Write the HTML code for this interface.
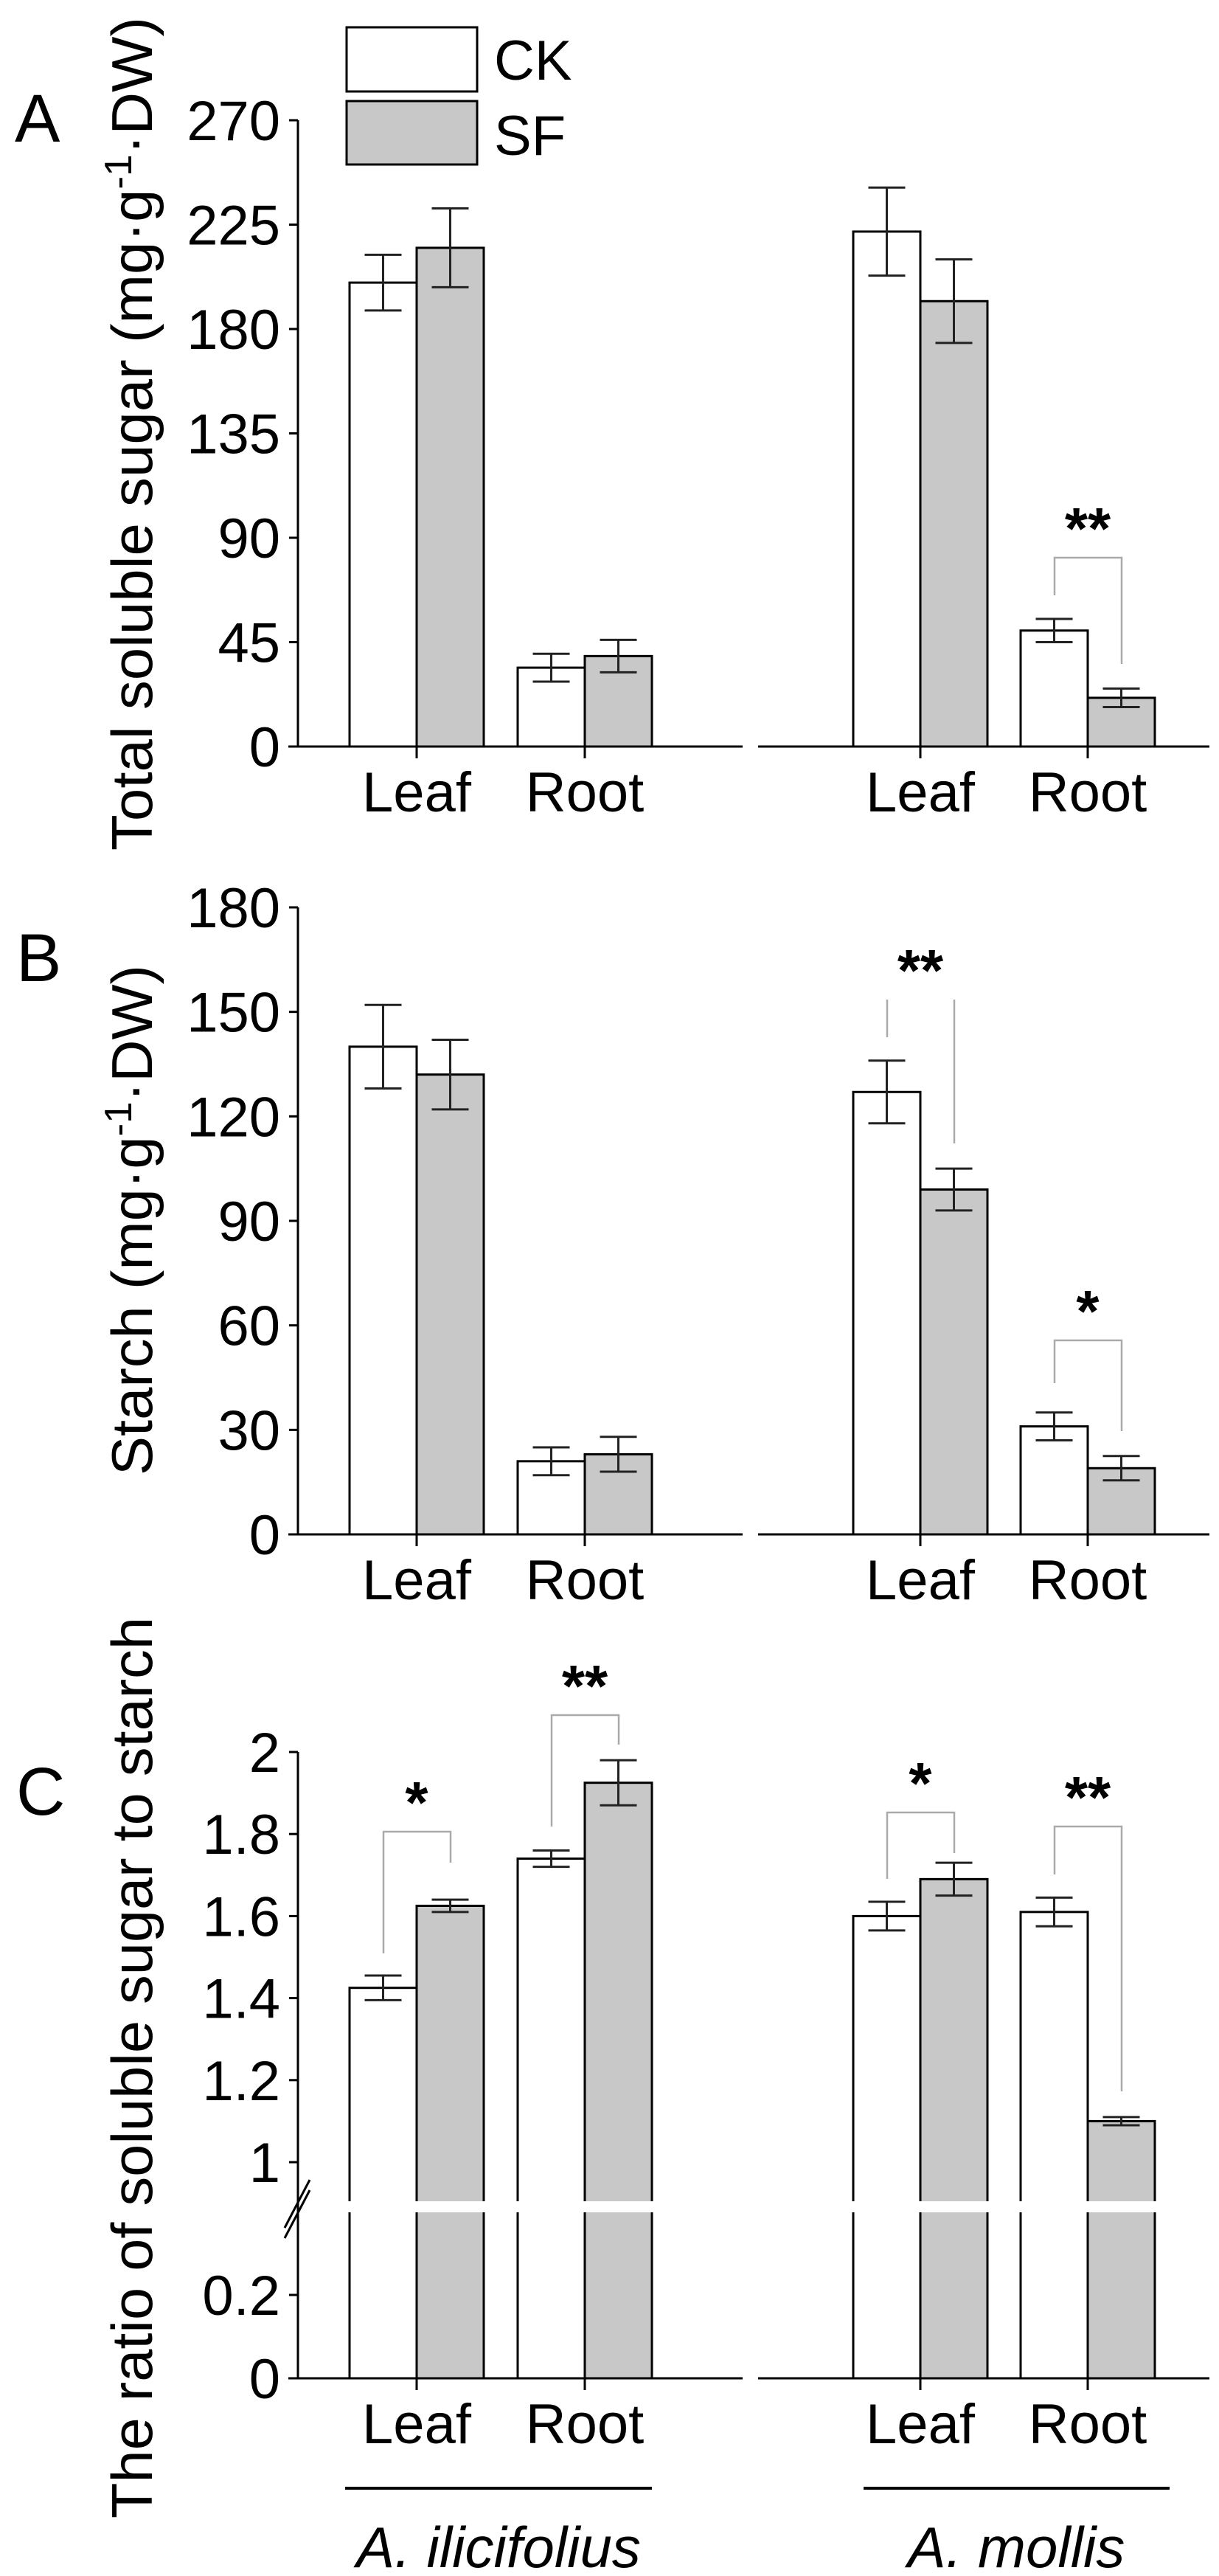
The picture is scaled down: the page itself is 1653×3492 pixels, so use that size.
<!DOCTYPE html>
<html><head><meta charset="utf-8"><title>Sugar and starch chart</title>
<style>html,body{margin:0;padding:0;background:#fff}svg{display:block}text{font-family:"Liberation Sans",Arial,sans-serif}</style>
</head><body>
<svg id="chart" xmlns="http://www.w3.org/2000/svg" width="1653" height="3492" viewBox="0 0 1653 3492">
<rect x="0" y="0" width="1653" height="3492" fill="#fff"/>
</svg>
<script>
// ---- data ----
const tissues = ["Leaf","Root"];
const species = ["A. ilicifolius","A. mollis"];
// order: [ilici leaf, ilici root, mollis leaf, mollis root]
const sugarCK = [200, 34, 222, 50];
const sugarCKerr = [12, 6, 19, 5];
const sugarSF = [215, 39, 192, 21];
const sugarSFerr = [17, 7, 18, 4];
const starchCK = [140, 21, 127, 31];
const starchCKerr = [12, 4, 9, 4];
const starchSF = [132, 23, 99, 19];
const starchSFerr = [10, 5, 6, 3.5];
const ratioCK = [1.425, 1.74, 1.60, 1.61];
const ratioCKerr = [0.03, 0.02, 0.035, 0.035];
const ratioSF = [1.625, 1.925, 1.69, 1.10];
const ratioSFerr = [0.015, 0.055, 0.04, 0.01];
const sugarTicks = [0,45,90,135,180,225,270];
const starchTicks = [0,30,60,90,120,150,180];
const ratioTicksHigh = [1,1.2,1.4,1.6,1.8,2];
const ratioTicksLow = [0,0.2];
const sugarSig = [null, null, null, "**"];
const starchSig = [null, null, "**", "*"];
const ratioSig = ["*", "**", "*", "**"];

const NS="http://www.w3.org/2000/svg";
const svg=document.getElementById('chart');
function el(tag,attrs,parent){const e=document.createElementNS(NS,tag);for(const k in attrs)e.setAttribute(k,attrs[k]);(parent||svg).appendChild(e);return e;}
function txt(s,attrs,parent){const t=el('text',attrs,parent);t.textContent=s;return t;}

const groupCenters=[565,793,1248,1475];
const barW=91;
const AXX=404;

function drawPanel(cfg){
  const g=el('g',{});
  
  
  const y=cfg.y;
  // bars
  for(let i=0;i<4;i++){
    const c=groupCenters[i];
    [[cfg.ck,cfg.ckErr,'#fff',c-barW,'bar-ck'],[cfg.sf,cfg.sfErr,'#c8c8c8',c,'bar-sf']].forEach(([vals,errs,fill,x0,nm])=>{
      const v=vals[i],e=errs[i];
      const top=y(v);
      if(cfg.breakY){
        const r1=el('rect',{x:x0,y:top,width:barW,height:cfg.breakY[0]-top+6,fill:fill,stroke:'#000','stroke-width':3},g);
        
        
        const r2=el('rect',{x:x0,y:cfg.breakY[1]-6,width:barW,height:cfg.base-cfg.breakY[1]+6,fill:fill,stroke:'#000','stroke-width':3},g);
        
        
        el('rect',{x:x0-4,y:cfg.breakY[0],width:barW+8,height:cfg.breakY[1]-cfg.breakY[0],fill:'#fff'},g);
      } else {
        const r=el('rect',{x:x0,y:top,width:barW,height:cfg.base-top,fill:fill,stroke:'#000','stroke-width':3},g);
        
        
      }
      const cx=x0+barW/2, y1=y(v+e), y2=y(v-e);
      const eb=el('path',{d:`M${cx-25},${y1}H${cx+25}M${cx},${y1}V${y2}M${cx-25},${y2}H${cx+25}`,stroke:'#222','stroke-width':3,fill:'none'},g);
      
      
    });
    // x tick
    const xt=el('line',{x1:c,y1:cfg.base,x2:c,y2:cfg.base+16,stroke:'#000','stroke-width':3},g);
    
    
    const cl=txt(tissues[i%2],{x:c,y:cfg.base+88,'font-size':76,'text-anchor':'middle'},g);
    
    
    // significance
    if(cfg.sig[i]){
      const s=cfg.sigPos[i];
      const lx=c-45, rx=c+46;
      const lb=y(cfg.ck[i]+cfg.ckErr[i])-s.gapL, rb=y(cfg.sf[i]+cfg.sfErr[i])-s.gapR;
      const d=s.noTop?`M${lx},${lb}V${s.top}M${rx},${s.top}V${rb}`:`M${lx},${lb}V${s.top}H${rx}V${rb}`;
      const br=el('path',{d:d,stroke:'#aaa','stroke-width':2.5,fill:'none'},g);
      
      
      const st=txt(cfg.sig[i],{x:c,y:s.top-12,'font-size':80,'font-weight':'bold','text-anchor':'middle'},g);
      
      
    }
  }
  // axes (drawn after bars)
  const ax=el('line',{x1:AXX,y1:cfg.axisTop,x2:AXX,y2:cfg.base,stroke:'#000','stroke-width':3},g);
  
  
  const xl=el('line',{x1:391,y1:cfg.base,x2:1007,y2:cfg.base,stroke:'#000','stroke-width':3},g);
  
  
  const xr=el('line',{x1:1028,y1:cfg.base,x2:1640,y2:cfg.base,stroke:'#000','stroke-width':3},g);
  
  
  cfg.ticks.forEach(t=>{
    const ty=y(t);
    const tk=el('line',{x1:392,y1:ty,x2:AXX,y2:ty,stroke:'#000','stroke-width':3},g);
    
    
    const lb=txt(String(t),{x:380,y:ty+27,'font-size':76,'text-anchor':'end'},g);
    
    
  });
  // labels
  const pl=txt(cfg.letter,{x:cfg.letterX,y:cfg.letterY,'font-size':92},g);
  
  
  const yt=txt(cfg.title,{x:0,y:0,'font-size':78,'text-anchor':'middle',transform:`translate(206,${cfg.titleC}) rotate(-90)`,textLength:cfg.titleLen,lengthAdjust:'spacingAndGlyphs'},g);
  
  
  return yt;
}

// Panel A
const yA=v=>1012-v*(849/270);
const tA=drawPanel({name:'panel-a-sugar',y:yA,axisTop:yA(270),base:1012,ticks:sugarTicks,ck:sugarCK,ckErr:sugarCKerr,sf:sugarSF,sfErr:sugarSFerr,
  sig:sugarSig,sigPos:[null,null,null,{top:756,gapL:(yA(sugarCK[3]+sugarCKerr[3])-807),gapR:(yA(sugarSF[3]+sugarSFerr[3])-900)}],
  letter:'A',letterX:20,letterY:192,title:'',titleC:588,titleLen:1130});
tA.textContent='';
tA.appendChild(document.createTextNode('Total soluble sugar (mg·g'));
const supA=document.createElementNS(NS,'tspan');supA.setAttribute('dy','-28');supA.setAttribute('font-size','52');supA.textContent='-1';tA.appendChild(supA);
const restA=document.createElementNS(NS,'tspan');restA.setAttribute('dy','28');restA.textContent='·DW)';tA.appendChild(restA);

// Panel B
const yB=v=>2080-v*(850/180);
const tB=drawPanel({name:'panel-b-starch',y:yB,axisTop:yB(180),base:2080,ticks:starchTicks,ck:starchCK,ckErr:starchCKerr,sf:starchSF,sfErr:starchSFerr,
  sig:starchSig,sigPos:[null,null,{top:1355,noTop:true,gapL:yB(starchCK[2]+starchCKerr[2])-1406,gapR:yB(starchSF[2]+starchSFerr[2])-1550},
  {top:1817,gapL:yB(starchCK[3]+starchCKerr[3])-1875,gapR:yB(starchSF[3]+starchSFerr[3])-1940}],
  letter:'B',letterX:22,letterY:1330,title:'',titleC:1654,titleLen:692});
tB.textContent='';
tB.appendChild(document.createTextNode('Starch (mg·g'));
const supB=document.createElementNS(NS,'tspan');supB.setAttribute('dy','-28');supB.setAttribute('font-size','52');supB.textContent='-1';tB.appendChild(supB);
const restB=document.createElementNS(NS,'tspan');restB.setAttribute('dy','28');restB.textContent='·DW)';tB.appendChild(restB);

// Panel C (broken axis)
const yC=v=>v>=0.5?2931-(v-1)*(556/1.0):3224-v*565;
drawPanel({name:'panel-c-ratio',y:yC,axisTop:yC(2),base:3224,ticks:ratioTicksLow.concat(ratioTicksHigh),ck:ratioCK,ckErr:ratioCKerr,sf:ratioSF,sfErr:ratioSFerr,
  breakY:[2984,2999],
  sig:ratioSig,sigPos:[{top:2483,gapL:yC(ratioCK[0]+ratioCKerr[0])-2648,gapR:yC(ratioSF[0]+ratioSFerr[0])-2525},
  {top:2325,gapL:yC(ratioCK[1]+ratioCKerr[1])-2476,gapR:yC(ratioSF[1]+ratioSFerr[1])-2365},
  {top:2457,gapL:yC(ratioCK[2]+ratioCKerr[2])-2547,gapR:yC(ratioSF[2]+ratioSFerr[2])-2512},
  {top:2476,gapL:yC(ratioCK[3]+ratioCKerr[3])-2541,gapR:yC(ratioSF[3]+ratioSFerr[3])-2835}],
  letter:'C',letterX:22,letterY:2460,title:'The ratio of soluble sugar to starch',titleC:2803,titleLen:1222});
// break marks
const bk=el('path',{d:'M386,3020L420,2955M386,3034L420,2969',stroke:'#000','stroke-width':3,fill:'none'});



// species lines & labels
[[468,884,676],[1171,1586,1378]].forEach((p,i)=>{
  const ln=el('line',{x1:p[0],y1:3373,x2:p[1],y2:3373,stroke:'#000','stroke-width':4});
  
  
  const sp=txt(species[i],{x:p[2],y:3480,'font-size':78,'font-style':'italic','text-anchor':'middle'});
  
  
});

// legend
const lg=el('g',{});


const l1=el('rect',{x:470,y:37,width:177,height:87,fill:'#fff',stroke:'#000','stroke-width':3},lg);


const l2=el('rect',{x:470,y:137,width:177,height:86,fill:'#c8c8c8',stroke:'#000','stroke-width':3},lg);


const lt1=txt('CK',{x:670,y:108,'font-size':76},lg);


const lt2=txt('SF',{x:670,y:210,'font-size':76},lg);


</script>
</body></html>
